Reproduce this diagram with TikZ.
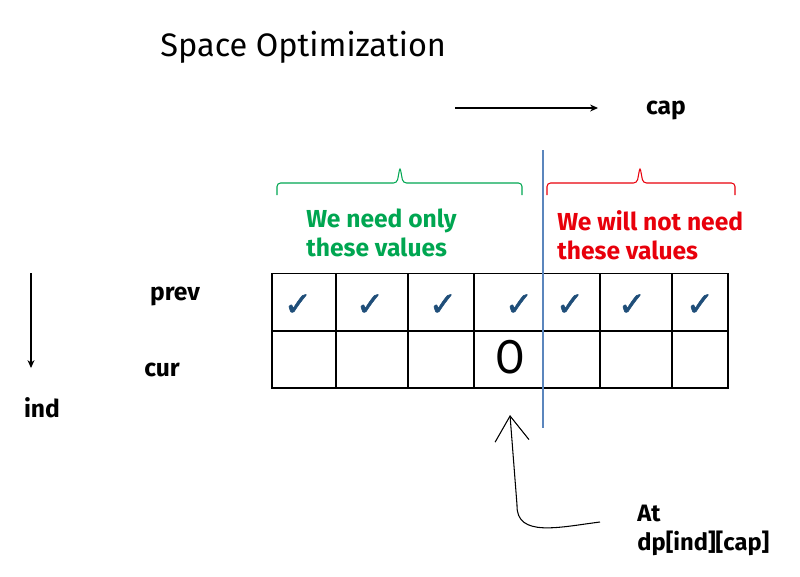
\documentclass[tikz,border=0pt]{standalone}
\usepackage{fontspec}
\setmainfont{Fira Sans}
\newfontfamily\symfont[FakeBold=1.6]{DejaVu Sans}
\usepackage{tikz}
\usetikzlibrary{positioning,arrows.meta}
\definecolor{tickblue}{HTML}{1F4E79}
\definecolor{keepgreen}{HTML}{00A651}
\definecolor{dropred}{HTML}{E8000B}
\definecolor{splitblue}{HTML}{5B86BD}

\begin{document}
\begin{tikzpicture}[x=0.02cm, y=-0.02cm,
      cell/.style={rectangle, draw=black, line width=0.6pt, inner sep=0pt, minimum height=1.14cm},
      lbl/.style={font=\bfseries\fontsize{14}{16.5}\selectfont, inner sep=0pt},
      tick/.style={text=tickblue, font=\symfont\fontsize{19}{19}\selectfont, inner sep=0pt},
      small/.style={-{Stealth[length=4.5pt, width=4pt]}, line width=0.6pt},
      bracket/.style={line width=0.6pt, rounded corners=2pt}
      ]
      \useasboundingbox (0,0) rectangle (800,576);
      \node[anchor=west, inner sep=0pt, font=\fontsize{18.5}{20}\selectfont] (TITLE) at (160,47) {Space Optimization};
      % axes
      \node[lbl] (CAP) at (666,110) {cap};
      \coordinate (CAPA) at (455,108);
      \coordinate (CAPB) at (598,108);
      \draw[small] (CAPA) -- (CAPB);
      \node[lbl] (IND) at (42,408) {ind};
      \coordinate (INDA) at (31,273);
      \coordinate (INDB) at (31,368);
      \draw[small] (INDA) -- (INDB);
      \node[lbl] (PREV) at (175,296) {prev};
      \node[lbl] (CUR) at (162,370) {cur};
      % the two rows
      \foreach \a/\b/\k [count=\i] in {272/336/298, 336/408/370, 408/474/443, 474/543/519, 543/600/570, 600/672/632, 672/728/700} {
        \node[cell, minimum width={(\b-\a)*0.02cm}] (P\i) at ({(\a+\b)/2},302) {};
        \node[cell, minimum width={(\b-\a)*0.02cm}] (C\i) at ({(\a+\b)/2},359.5) {};
        \node[tick] (T\i) at (\k,305) {✓};
      }
      \node[inner sep=0pt, font=\fontsize{27}{27}\selectfont, xscale=0.9] (O) at (510,357) {O};
      % split
      \coordinate (SPLITA) at (543,150);
      \coordinate (SPLITB) at (543,428);
      \draw[splitblue, line width=0.7pt] (SPLITA) -- (SPLITB);
      % braces
      \draw[bracket, keepgreen] (277,195) -- (277,183) -- (397,183) -- (400,167) -- (403,183) -- (522,183) -- (522,195);
      \draw[bracket, dropred] (547,195) -- (547,183) -- (637,183) -- (640,167) -- (643,183) -- (735,183) -- (735,195);
      \node[lbl, text=keepgreen, anchor=west, align=left] (NEED) at (306,232.5) {We need only\\these values};
      \node[lbl, text=dropred, anchor=west, align=left] (NOTNEED) at (557,235.5) {We will not need\\these values};
      % pointer
      \node[lbl, anchor=west, align=left, font=\bfseries\fontsize{13.5}{16.5}\selectfont] (AT) at (637,530.5) {At\\dp[ind][cap]};
      \coordinate (ATA) at (600,522);
      \coordinate (ATB) at (510,415);
      \draw[-{Straight Barb[length=0.5cm, width=0.68cm]}, line width=0.6pt] (ATA) .. controls (560,527) and (516,538) .. (517,505) -- (ATB);
    \end{tikzpicture}
\end{document}
